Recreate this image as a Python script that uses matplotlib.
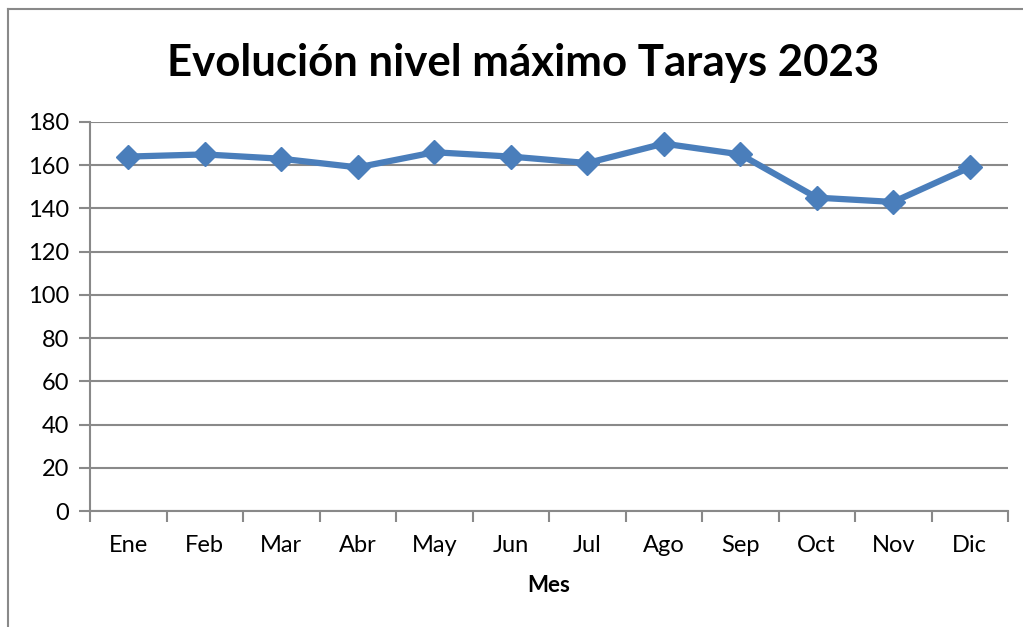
import matplotlib
matplotlib.use('AGG')
import matplotlib.pyplot as plt
from matplotlib.lines import Line2D
from matplotlib.ticker import FixedLocator

# datos del nivel maximo mensual
meses = ['Ene', 'Feb', 'Mar', 'Abr', 'May', 'Jun', 'Jul', 'Ago', 'Sep', 'Oct', 'Nov', 'Dic']
nivel_max = [164, 165, 163, 159, 166, 164, 161, 170, 165, 145, 143, 159]
y_ticks = [0, 20, 40, 60, 80, 100, 120, 140, 160, 180]

plt.rcParams['font.family'] = ['Lato', 'DejaVu Sans']

W, H = 1023, 627
fig = plt.figure(figsize=(W / 100, H / 100), dpi=100)
gris = '#898989'

# marco del grafico
fig.add_artist(Line2D([8 / W, 8 / W], [0, 1 - 9 / H], color=gris, lw=1.5, transform=fig.transFigure))
fig.add_artist(Line2D([8 / W, 1], [1 - 9 / H, 1 - 9 / H], color=gris, lw=1.5, transform=fig.transFigure))

ax = fig.add_axes([90 / W, (H - 511) / H, 918 / W, 389 / H])

x = [i + 0.5 for i in range(len(meses))]
ax.plot(x, nivel_max, color='#4A7EBB', lw=4.5, marker='D', markersize=12.5,
        markerfacecolor='#4A7EBB', markeredgecolor='#4A7EBB', clip_on=False)

ax.set_xlim(0, 12)
ax.set_ylim(0, 180)
ax.set_yticks(y_ticks)
ax.yaxis.grid(True, color=gris, lw=1.5)
ax.set_axisbelow(True)

ax.xaxis.set_major_locator(FixedLocator(range(13)))
ax.xaxis.set_minor_locator(FixedLocator(x))
ax.set_xticklabels([])
ax.set_xticklabels(meses, minor=True)
ax.tick_params(axis='x', which='major', length=8, width=1.5, color=gris, direction='out')
ax.tick_params(axis='x', which='minor', length=0, labelsize=17, pad=17)
ax.tick_params(axis='y', length=8, width=1.5, color=gris, labelsize=17, pad=7)

for s in ['top', 'right']:
    ax.spines[s].set_visible(False)
for s in ['left', 'bottom']:
    ax.spines[s].set_color(gris)
    ax.spines[s].set_linewidth(1.5)

fig.text(523 / W, 1 - 63 / H, 'Evolución nivel máximo Tarays 2023', ha='center', va='center',
         fontsize=31.5, fontweight='bold')
fig.text(549 / W, 1 - 586 / H, 'Mes', ha='center', va='center', fontsize=16, fontweight='bold')

plt.savefig('out.png', dpi=100)
